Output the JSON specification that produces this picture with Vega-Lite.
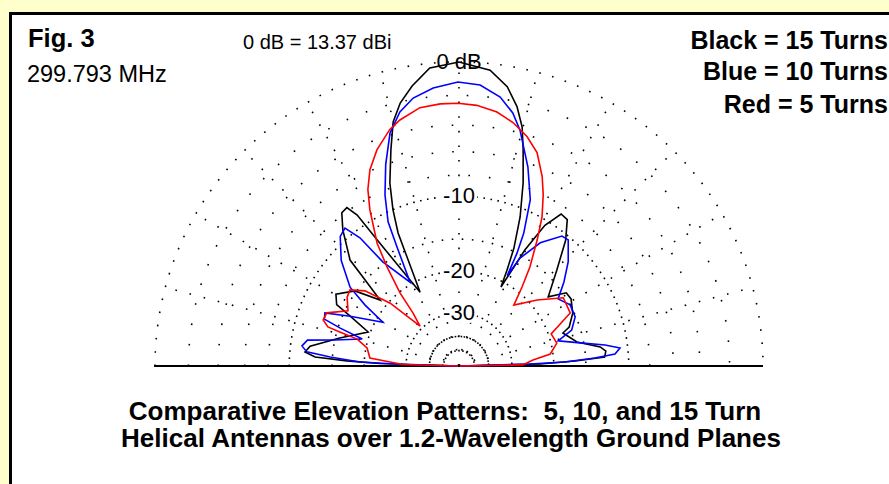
{
  "$schema": "https://vega.github.io/schema/vega-lite/v6.json",
  "width": 880,
  "height": 472,
  "autosize": "none",
  "padding": {"left": 10.5, "top": 13.5, "right": 0, "bottom": 0},
  "background": "#FFFFCC",
  "config": {"view": {"fill": "white", "stroke": "black", "strokeWidth": 3}, "font": "Liberation Sans"},
  "datasets": {
    "rings": [{"db": 0}, {"db": -2}, {"db": -4}, {"db": -6}, {"db": -8}, {"db": -10}, {"db": -15}, {"db": -20}, {"db": -30}, {"db": -40}, {"db": -50}],
    "spokes": [{"a": 15}, {"a": 30}, {"a": 45}, {"a": 60}, {"a": 75}, {"a": 90}, {"a": 105}, {"a": 120}, {"a": 135}, {"a": 150}, {"a": 165}],
    "ringlabels": [{"db": 0, "label": "0 dB"}, {"db": -10, "label": "-10"}, {"db": -20, "label": "-20"}, {"db": -30, "label": "-30"}],
    "patterns": [
      {"s": "15", "el": 0, "db": -100}, {"s": "15", "el": 1.4, "db": -22.7}, {"s": "15", "el": 2.5, "db": -16.5}, {"s": "15", "el": 3.5, "db": -12.6}, {"s": "15", "el": 5.8, "db": -12.4}, {"s": "15", "el": 7.7, "db": -13.0}, {"s": "15", "el": 11.5, "db": -15.9}, {"s": "15", "el": 17.6, "db": -17.6}, {"s": "15", "el": 19.5, "db": -16.4}, {"s": "15", "el": 24.9, "db": -15.2}, {"s": "15", "el": 30.9, "db": -14.5}, {"s": "15", "el": 34.3, "db": -14.6}, {"s": "15", "el": 37.8, "db": -17.0}, {"s": "15", "el": 44.4, "db": -13.7}, {"s": "15", "el": 49.7, "db": -10.5}, {"s": "15", "el": 53.5, "db": -8.8}, {"s": "15", "el": 56.1, "db": -8.7}, {"s": "15", "el": 58.6, "db": -10.5}, {"s": "15", "el": 60.4, "db": -14.1}, {"s": "15", "el": 62.0, "db": -21.0}, {"s": "15", "el": 63.4, "db": -17.9}, {"s": "15", "el": 65.0, "db": -14.6}, {"s": "15", "el": 67.7, "db": -10.9}, {"s": "15", "el": 70.7, "db": -7.7}, {"s": "15", "el": 73.5, "db": -5.1}, {"s": "15", "el": 75.2, "db": -3.55}, {"s": "15", "el": 77.4, "db": -2.3}, {"s": "15", "el": 80.2, "db": -1.2}, {"s": "15", "el": 84.0, "db": -0.37}, {"s": "15", "el": 90, "db": 0}, {"s": "15", "el": 95.6, "db": -0.26}, {"s": "15", "el": 99.5, "db": -1.17}, {"s": "15", "el": 102.6, "db": -2.07}, {"s": "15", "el": 105.1, "db": -3.17}, {"s": "15", "el": 107.5, "db": -5.05}, {"s": "15", "el": 110.7, "db": -7.57}, {"s": "15", "el": 112.9, "db": -10.0}, {"s": "15", "el": 114.6, "db": -12.55}, {"s": "15", "el": 115.5, "db": -15.85}, {"s": "15", "el": 117.8, "db": -22.2}, {"s": "15", "el": 121.0, "db": -16.8}, {"s": "15", "el": 123.1, "db": -11.7}, {"s": "15", "el": 124.0, "db": -8.8}, {"s": "15", "el": 125.3, "db": -7.7}, {"s": "15", "el": 127.4, "db": -7.8}, {"s": "15", "el": 130.5, "db": -9.1}, {"s": "15", "el": 135.8, "db": -11.9}, {"s": "15", "el": 137.5, "db": -14.9}, {"s": "15", "el": 140.1, "db": -18.6}, {"s": "15", "el": 144.2, "db": -14.8}, {"s": "15", "el": 149.7, "db": -13.0}, {"s": "15", "el": 153.4, "db": -13.7}, {"s": "15", "el": 155.4, "db": -16.0}, {"s": "15", "el": 159.5, "db": -19.6}, {"s": "15", "el": 166.8, "db": -15.6}, {"s": "15", "el": 172.4, "db": -12.1}, {"s": "15", "el": 174.8, "db": -11.6}, {"s": "15", "el": 176.4, "db": -12.8}, {"s": "15", "el": 177.4, "db": -17.1}, {"s": "15", "el": 178.2, "db": -23.1}, {"s": "15", "el": 180, "db": -100},
      {"s": "10", "el": 0, "db": -100}, {"s": "10", "el": 1.6, "db": -25.0}, {"s": "10", "el": 2.2, "db": -18.1}, {"s": "10", "el": 3.4, "db": -13.8}, {"s": "10", "el": 4.4, "db": -11.4}, {"s": "10", "el": 6.4, "db": -10.8}, {"s": "10", "el": 8.2, "db": -12.4}, {"s": "10", "el": 10.8, "db": -15.5}, {"s": "10", "el": 14.2, "db": -18.7}, {"s": "10", "el": 17.7, "db": -16.2}, {"s": "10", "el": 22.9, "db": -15.1}, {"s": "10", "el": 28.8, "db": -15.0}, {"s": "10", "el": 34.1, "db": -16.0}, {"s": "10", "el": 38.7, "db": -14.0}, {"s": "10", "el": 43.7, "db": -12.0}, {"s": "10", "el": 49.1, "db": -10.3}, {"s": "10", "el": 51.6, "db": -10.4}, {"s": "10", "el": 56.6, "db": -12.4}, {"s": "10", "el": 60.5, "db": -15.4}, {"s": "10", "el": 61.9, "db": -18.7}, {"s": "10", "el": 62.8, "db": -15.0}, {"s": "10", "el": 64.0, "db": -12.4}, {"s": "10", "el": 66.8, "db": -8.9}, {"s": "10", "el": 70.9, "db": -6.3}, {"s": "10", "el": 75.5, "db": -3.8}, {"s": "10", "el": 78.0, "db": -2.77}, {"s": "10", "el": 81.3, "db": -1.9}, {"s": "10", "el": 85.7, "db": -1.3}, {"s": "10", "el": 90.2, "db": -1.17}, {"s": "10", "el": 95.3, "db": -1.46}, {"s": "10", "el": 99.7, "db": -1.92}, {"s": "10", "el": 103.1, "db": -2.63}, {"s": "10", "el": 106.5, "db": -3.85}, {"s": "10", "el": 110.0, "db": -6.0}, {"s": "10", "el": 113.4, "db": -8.4}, {"s": "10", "el": 116.2, "db": -10.95}, {"s": "10", "el": 117.5, "db": -14.0}, {"s": "10", "el": 120.3, "db": -19.6}, {"s": "10", "el": 126.2, "db": -14.7}, {"s": "10", "el": 127.7, "db": -10.8}, {"s": "10", "el": 129.6, "db": -9.1}, {"s": "10", "el": 132.5, "db": -9.4}, {"s": "10", "el": 138.1, "db": -11.2}, {"s": "10", "el": 144.1, "db": -14.0}, {"s": "10", "el": 147.0, "db": -17.1}, {"s": "10", "el": 150.1, "db": -21.3}, {"s": "10", "el": 155.4, "db": -16.0}, {"s": "10", "el": 158.4, "db": -12.8}, {"s": "10", "el": 160.8, "db": -13.0}, {"s": "10", "el": 162.3, "db": -15.3}, {"s": "10", "el": 164.4, "db": -19.0}, {"s": "10", "el": 168.2, "db": -15.0}, {"s": "10", "el": 170.3, "db": -11.7}, {"s": "10", "el": 172.7, "db": -11.2}, {"s": "10", "el": 174.7, "db": -11.8}, {"s": "10", "el": 176.0, "db": -14.7}, {"s": "10", "el": 177.7, "db": -19.2}, {"s": "10", "el": 178.6, "db": -31.3}, {"s": "10", "el": 180, "db": -100},
      {"s": "5", "el": 0, "db": -100}, {"s": "5", "el": 1.0, "db": -26.8}, {"s": "5", "el": 4.6, "db": -24.2}, {"s": "5", "el": 7.5, "db": -20.5}, {"s": "5", "el": 13.2, "db": -19.0}, {"s": "5", "el": 19.2, "db": -19.5}, {"s": "5", "el": 25.5, "db": -15.5}, {"s": "5", "el": 33.2, "db": -15.3}, {"s": "5", "el": 40.2, "db": -18.7}, {"s": "5", "el": 48.0, "db": -22.5}, {"s": "5", "el": 51.4, "db": -18.9}, {"s": "5", "el": 54.4, "db": -15.7}, {"s": "5", "el": 58.2, "db": -12.3}, {"s": "5", "el": 60.9, "db": -9.9}, {"s": "5", "el": 63.8, "db": -8.0}, {"s": "5", "el": 66.3, "db": -6.6}, {"s": "5", "el": 69.9, "db": -5.0}, {"s": "5", "el": 73.5, "db": -4.1}, {"s": "5", "el": 77.5, "db": -3.4}, {"s": "5", "el": 81.5, "db": -2.9}, {"s": "5", "el": 86.1, "db": -2.6}, {"s": "5", "el": 90.2, "db": -2.5}, {"s": "5", "el": 94.1, "db": -2.5}, {"s": "5", "el": 98.6, "db": -2.6}, {"s": "5", "el": 103.5, "db": -3.15}, {"s": "5", "el": 106.3, "db": -3.6}, {"s": "5", "el": 110.8, "db": -4.7}, {"s": "5", "el": 114.4, "db": -5.9}, {"s": "5", "el": 117.3, "db": -7.3}, {"s": "5", "el": 119.7, "db": -9.0}, {"s": "5", "el": 123.7, "db": -12.4}, {"s": "5", "el": 126.0, "db": -15.6}, {"s": "5", "el": 128.9, "db": -20.2}, {"s": "5", "el": 131.0, "db": -25.2}, {"s": "5", "el": 134.3, "db": -29.1}, {"s": "5", "el": 137.6, "db": -20.3}, {"s": "5", "el": 141.4, "db": -15.9}, {"s": "5", "el": 145.1, "db": -14.2}, {"s": "5", "el": 148.4, "db": -14.4}, {"s": "5", "el": 153.6, "db": -15.4}, {"s": "5", "el": 158.1, "db": -13.0}, {"s": "5", "el": 161.3, "db": -12.9}, {"s": "5", "el": 163.4, "db": -13.7}, {"s": "5", "el": 164.1, "db": -15.4}, {"s": "5", "el": 165.2, "db": -18.2}, {"s": "5", "el": 168.9, "db": -20.2}, {"s": "5", "el": 174.9, "db": -21.0}, {"s": "5", "el": 176.1, "db": -24.2}, {"s": "5", "el": 178.5, "db": -29.0}, {"s": "5", "el": 180, "db": -100}
    ]
  },
  "encoding": {
    "x": {"type": "quantitative", "scale": {"domain": [-1.475329, 1.419408], "nice": false, "zero": false}, "axis": null},
    "y": {"type": "quantitative", "scale": {"domain": [-0.393092, 1.159539], "nice": false, "zero": false}, "axis": null}
  },
  "layer": [
    {
      "data": {"name": "rings"},
      "transform": [{"filter": "datum.db == 0"}, {"calculate": "pow(0.89, -datum.db/2)", "as": "r"}, {"calculate": "0", "as": "c"}],
      "mark": {"type": "arc", "theta": -1.5708, "theta2": 1.5708, "filled": false, "stroke": "#000000", "strokeWidth": 1.6, "strokeDash": [1.6, 11.7]},
      "encoding": {
        "x": {"field": "c", "type": "quantitative"},
        "y": {"field": "c", "type": "quantitative"},
        "radius": {"field": "r", "type": "quantitative", "stack": null, "scale": {"type": "linear", "domain": [0, 1], "range": [0, 304], "zero": true}},
        "radius2": {"datum": 0}
      }
    },
    {
      "data": {"name": "rings"},
      "transform": [{"filter": "datum.db <= -2 && datum.db >= -8"}, {"calculate": "pow(0.89, -datum.db/2)", "as": "r"}, {"calculate": "0", "as": "c"}],
      "mark": {"type": "arc", "theta": -1.5708, "theta2": 1.5708, "filled": false, "stroke": "#000000", "strokeWidth": 1.6, "strokeDash": [1.6, 19]},
      "encoding": {
        "x": {"field": "c", "type": "quantitative"},
        "y": {"field": "c", "type": "quantitative"},
        "radius": {"field": "r", "type": "quantitative", "stack": null, "scale": {"type": "linear", "domain": [0, 1], "range": [0, 304], "zero": true}},
        "radius2": {"datum": 0}
      }
    },
    {
      "data": {"name": "rings"},
      "transform": [{"filter": "datum.db == -10 || datum.db == -20"}, {"calculate": "pow(0.89, -datum.db/2)", "as": "r"}, {"calculate": "0", "as": "c"}],
      "mark": {"type": "arc", "theta": -1.5708, "theta2": 1.5708, "filled": false, "stroke": "#000000", "strokeWidth": 1.6, "strokeDash": [1.6, 5.5]},
      "encoding": {
        "x": {"field": "c", "type": "quantitative"},
        "y": {"field": "c", "type": "quantitative"},
        "radius": {"field": "r", "type": "quantitative", "stack": null, "scale": {"type": "linear", "domain": [0, 1], "range": [0, 304], "zero": true}},
        "radius2": {"datum": 0}
      }
    },
    {
      "data": {"name": "rings"},
      "transform": [{"filter": "datum.db == -15"}, {"calculate": "pow(0.89, -datum.db/2)", "as": "r"}, {"calculate": "0", "as": "c"}],
      "mark": {"type": "arc", "theta": -1.5708, "theta2": 1.5708, "filled": false, "stroke": "#000000", "strokeWidth": 1.6, "strokeDash": [1.6, 8.5]},
      "encoding": {
        "x": {"field": "c", "type": "quantitative"},
        "y": {"field": "c", "type": "quantitative"},
        "radius": {"field": "r", "type": "quantitative", "stack": null, "scale": {"type": "linear", "domain": [0, 1], "range": [0, 304], "zero": true}},
        "radius2": {"datum": 0}
      }
    },
    {
      "data": {"name": "rings"},
      "transform": [{"filter": "datum.db == -30 || datum.db == -50"}, {"calculate": "pow(0.89, -datum.db/2)", "as": "r"}, {"calculate": "0", "as": "c"}],
      "mark": {"type": "arc", "theta": -1.5708, "theta2": 1.5708, "filled": false, "stroke": "#000000", "strokeWidth": 1.6, "strokeDash": [1.6, 4]},
      "encoding": {
        "x": {"field": "c", "type": "quantitative"},
        "y": {"field": "c", "type": "quantitative"},
        "radius": {"field": "r", "type": "quantitative", "stack": null, "scale": {"type": "linear", "domain": [0, 1], "range": [0, 304], "zero": true}},
        "radius2": {"datum": 0}
      }
    },
    {
      "data": {"name": "rings"},
      "transform": [{"filter": "datum.db == -40"}, {"calculate": "pow(0.89, -datum.db/2)", "as": "r"}, {"calculate": "0", "as": "c"}],
      "mark": {"type": "arc", "theta": -1.5708, "theta2": 1.5708, "filled": false, "stroke": "#000000", "strokeWidth": 1.6, "strokeDash": [1.6, 1.4]},
      "encoding": {
        "x": {"field": "c", "type": "quantitative"},
        "y": {"field": "c", "type": "quantitative"},
        "radius": {"field": "r", "type": "quantitative", "stack": null, "scale": {"type": "linear", "domain": [0, 1], "range": [0, 304], "zero": true}},
        "radius2": {"datum": 0}
      }
    },
    {
      "data": {"name": "spokes"},
      "transform": [{"calculate": "cos(datum.a*PI/180)", "as": "ex"}, {"calculate": "sin(datum.a*PI/180)", "as": "ey"}, {"calculate": "0", "as": "ox"}],
      "mark": {"type": "rule", "stroke": "#000000", "strokeWidth": 1.6, "strokeDash": [1.6, 13]},
      "encoding": {
        "x": {"field": "ox", "type": "quantitative"},
        "y": {"field": "ox", "type": "quantitative"},
        "x2": {"field": "ex"},
        "y2": {"field": "ey"}
      }
    },
    {
      "data": {"name": "rings"},
      "transform": [{"filter": "datum.db == 0"}, {"calculate": "-pow(0.89, -datum.db/2) - 0.003", "as": "bx"}, {"calculate": "pow(0.89, -datum.db/2)", "as": "bx2"}, {"calculate": "0", "as": "by"}],
      "mark": {"type": "rule", "stroke": "#000000", "strokeWidth": 2},
      "encoding": {
        "x": {"field": "bx", "type": "quantitative"},
        "x2": {"field": "bx2"},
        "y": {"field": "by", "type": "quantitative"}
      }
    },
    {
      "data": {"name": "patterns"},
      "transform": [
        {"calculate": "pow(0.89, -datum.db/2)", "as": "r"},
        {"calculate": "datum.r*cos(datum.el*PI/180)", "as": "px"},
        {"calculate": "datum.r*sin(datum.el*PI/180)", "as": "py"}
      ],
      "mark": {"type": "line", "strokeWidth": 1.6, "interpolate": "linear"},
      "encoding": {
        "x": {"field": "px", "type": "quantitative"},
        "y": {"field": "py", "type": "quantitative"},
        "color": {"field": "s", "type": "nominal", "legend": null, "scale": {"domain": ["15", "10", "5"], "range": ["#000000", "#0000FF", "#FF0000"]}},
        "order": {"field": "el", "type": "quantitative"}
      }
    },
    {
      "data": {"name": "ringlabels"},
      "transform": [{"filter": "datum.db < 0"}, {"calculate": "pow(0.89, -datum.db/2)", "as": "r"}, {"calculate": "0", "as": "lx"}],
      "mark": {"type": "text", "fontSize": 22, "baseline": "middle", "align": "center", "stroke": "white", "strokeWidth": 6, "fill": "white"},
      "encoding": {
        "x": {"field": "lx", "type": "quantitative"},
        "y": {"field": "r", "type": "quantitative"},
        "text": {"field": "label"}
      }
    },
    {
      "data": {"name": "ringlabels"},
      "transform": [{"calculate": "pow(0.89, -datum.db/2)", "as": "r"}, {"calculate": "0", "as": "lx"}],
      "mark": {"type": "text", "fontSize": 22, "baseline": "middle", "align": "center", "fill": "#000000"},
      "encoding": {
        "x": {"field": "lx", "type": "quantitative"},
        "y": {"field": "r", "type": "quantitative"},
        "text": {"field": "label"}
      }
    },
    {
      "data": {"values": [{"tx": -1.4178, "ty": 1.0493, "t": "Fig. 3"}]},
      "mark": {"type": "text", "fontSize": 25.5, "fontWeight": "bold", "align": "left", "baseline": "alphabetic", "fill": "#000000"},
      "encoding": {"x": {"field": "tx", "type": "quantitative"}, "y": {"field": "ty", "type": "quantitative"}, "text": {"field": "t"}}
    },
    {
      "data": {"values": [{"tx": -1.4211, "ty": 0.9342, "t": "299.793 MHz"}]},
      "mark": {"type": "text", "fontSize": 23.5, "align": "left", "baseline": "alphabetic", "fill": "#000000"},
      "encoding": {"x": {"field": "tx", "type": "quantitative"}, "y": {"field": "ty", "type": "quantitative"}, "text": {"field": "t"}}
    },
    {
      "data": {"values": [{"tx": -0.7105, "ty": 1.0444, "t": "0 dB = 13.37 dBi"}]},
      "mark": {"type": "text", "fontSize": 20, "align": "left", "baseline": "alphabetic", "fill": "#000000"},
      "encoding": {"x": {"field": "tx", "type": "quantitative"}, "y": {"field": "ty", "type": "quantitative"}, "text": {"field": "t"}}
    },
    {
      "data": {"values": [{"tx": 1.411, "ty": 1.0444, "t": "Black = 15 Turns"}, {"tx": 1.411, "ty": 0.9408, "t": "Blue = 10 Turns"}, {"tx": 1.411, "ty": 0.8322, "t": "Red = 5 Turns"}]},
      "mark": {"type": "text", "fontSize": 25, "fontWeight": "bold", "align": "right", "baseline": "alphabetic", "fill": "#000000"},
      "encoding": {"x": {"field": "tx", "type": "quantitative"}, "y": {"field": "ty", "type": "quantitative"}, "text": {"field": "t"}}
    },
    {
      "data": {"values": [{"tx": -0.0461, "ty": -0.1776, "t": "Comparative Elevation Patterns:\u00a0 5, 10, and 15 Turn"}, {"tx": -0.0263, "ty": -0.2664, "t": "Helical Antennas over 1.2-Wavelength Ground Planes"}]},
      "mark": {"type": "text", "fontSize": 26, "fontWeight": "bold", "align": "center", "baseline": "alphabetic", "fill": "#000000"},
      "encoding": {"x": {"field": "tx", "type": "quantitative"}, "y": {"field": "ty", "type": "quantitative"}, "text": {"field": "t"}}
    }
  ]
}
